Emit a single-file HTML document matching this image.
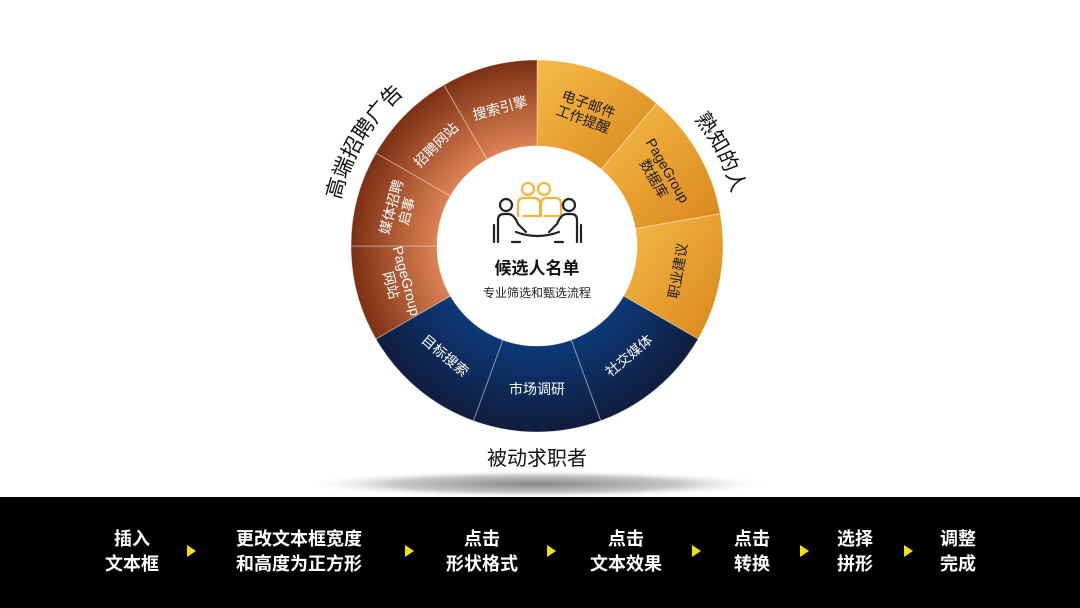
<!DOCTYPE html>
<html><head><meta charset="utf-8"><style>
html,body{margin:0;padding:0;background:#fff}
body{width:1080px;height:608px;overflow:hidden;position:relative;font-family:"Liberation Sans","Noto Sans CJK SC",sans-serif}
svg{position:absolute;left:0;top:0}
</style></head><body>
<svg id="s" width="1080" height="608" viewBox="0 0 1080 608" xmlns="http://www.w3.org/2000/svg" font-family="Liberation Sans, Noto Sans CJK SC, sans-serif">
<defs>
<radialGradient id="sh" cx="50%" cy="50%" r="50%"><stop offset="0" stop-color="#888"/><stop offset="0.6" stop-color="#c8c8c8"/><stop offset="1" stop-color="#fff" stop-opacity="0"/></radialGradient>
<linearGradient id="gO" x1="0" y1="0" x2="1" y2="1"><stop offset="0" stop-color="#f6bb48"/><stop offset="1" stop-color="#d8861a"/></linearGradient>
<radialGradient id="gB" gradientUnits="userSpaceOnUse" cx="537" cy="246" r="186"><stop offset="0.5" stop-color="#e48a5a"/><stop offset="1" stop-color="#7c2f13"/></radialGradient>
<radialGradient id="gN" gradientUnits="userSpaceOnUse" cx="537" cy="246" r="186"><stop offset="0.5" stop-color="#0c3b7c"/><stop offset="1" stop-color="#101d3d"/></radialGradient>
<path id="pL" d=""/><path id="pR" d=""/>
</defs>
<ellipse cx="537" cy="484" rx="240" ry="14" fill="url(#sh)"/>
<g id="ring"></g>
<circle cx="537" cy="246" r="100" fill="#fff"/>
<g id="labels" fill="#fff" font-size="14" text-anchor="middle"></g>
<text font-size="21" fill="#111"><textPath href="#pL" startOffset="50%" text-anchor="middle">高端招聘广告</textPath></text>
<text font-size="21" fill="#111"><textPath href="#pR" startOffset="50%" text-anchor="middle">熟知的人</textPath></text>
<text x="537" y="465" font-size="20" fill="#111" text-anchor="middle">被动求职者</text>
<g fill="none" stroke-width="2.2" stroke-linecap="round" stroke-linejoin="round">
<g stroke="#f3b33d">
<circle cx="528" cy="189" r="6"/><circle cx="544" cy="189" r="6"/>
<path d="M518 216 v-12 q0-6 6-6 h10 q6 0 6 6 v12 h-16"/>
<path d="M541 216 v-12 q0-6 6-6 h8 q6 0 6 6 v12 h-16"/>
</g>
<g stroke="#222">
<circle cx="506" cy="205" r="6"/><circle cx="569" cy="205" r="6"/>
<path d="M498 242 v-22 q0-6 6-6 h4 q6 0 10 10 l8 8"/>
<path d="M494 225 v17"/>
<path d="M577 242 v-22 q0-6-6-6 h-4 q-6 0-10 10 l-8 8"/>
<path d="M581 225 v17"/>
<path d="M516 232 q21 8 43 0"/>
<path d="M520 242 h-8 M555 242 h8"/>
</g>
</g>
<text x="537" y="274" font-size="17" font-weight="bold" fill="#111" text-anchor="middle">候选人名单</text>
<text x="537" y="297" font-size="12" fill="#222" text-anchor="middle">专业筛选和甄选流程</text>
<rect x="0" y="497" width="1080" height="111" fill="#000"/>
<g fill="#fff" font-size="18" font-weight="bold" text-anchor="middle">
<text x="132" y="545">插入</text><text x="132" y="570">文本框</text>
<text x="299" y="545">更改文本框宽度</text><text x="299" y="570">和高度为正方形</text>
<text x="482" y="545">点击</text><text x="482" y="570">形状格式</text>
<text x="626" y="545">点击</text><text x="626" y="570">文本效果</text>
<text x="752" y="545">点击</text><text x="752" y="570">转换</text>
<text x="855" y="545">选择</text><text x="855" y="570">拼形</text>
<text x="958" y="545">调整</text><text x="958" y="570">完成</text>
</g>
<g fill="#f5e200">
<path d="M187 545 l9 6 l-9 6z"/><path d="M405 545 l9 6 l-9 6z"/><path d="M547 545 l9 6 l-9 6z"/>
<path d="M692 545 l9 6 l-9 6z"/><path d="M800 545 l9 6 l-9 6z"/><path d="M904 545 l9 6 l-9 6z"/>
</g>
</svg>
<script>
var cx=537,cy=246,R=186,r=100,NS="http://www.w3.org/2000/svg";
function P(a,rad){a=a*Math.PI/180;return [cx+rad*Math.cos(a),cy+rad*Math.sin(a)];}
function seg(a0,a1,fill){var p0=P(a0,R),p1=P(a1,R),q1=P(a1,r),q0=P(a0,r);
var d="M"+p0+" A"+R+" "+R+" 0 0 1 "+p1+" L"+q1+" A"+r+" "+r+" 0 0 0 "+q0+"Z";
var e=document.createElementNS(NS,"path");e.setAttribute("d",d);e.setAttribute("fill",fill);
e.setAttribute("stroke","rgba(255,255,255,0.35)");e.setAttribute("stroke-width","1");
document.getElementById("ring").appendChild(e);}
var segs=[[-90,-50,"url(#gO)",["电子邮件","工作提醒"]],[-50,-10,"url(#gO)",["PageGroup","数据库"]],[-10,30,"url(#gO)",["职业建议"]],
[30,70,"url(#gN)",["社交媒体"]],[70,110,"url(#gN)",["市场调研"]],[110,150,"url(#gN)",["目标搜索"]],
[150,180,"url(#gB)",["PageGroup","网站"]],[180,210,"url(#gB)",["媒体招聘","启事"]],[210,240,"url(#gB)",["招聘网站"]],[240,270,"url(#gB)",["搜索引擎"]]];
var L=document.getElementById("labels");
segs.forEach(function(s){seg(s[0],s[1],s[2]);var m=(s[0]+s[1])/2,p=P(m,143);
var rot=(m>0&&m<180)?m-90:m+90;
var g=document.createElementNS(NS,"g");g.setAttribute("transform","translate("+p+") rotate("+rot+")");
var n=s[3].length;s[3].forEach(function(t,i){var tx=document.createElementNS(NS,"text");
tx.setAttribute("y",(i-(n-1)/2)*16+5);tx.setAttribute("fill",s[2]=="url(#gO)"?"#1a1a1a":"#fff");tx.textContent=t;g.appendChild(tx);});
L.appendChild(g);});
function arc(id,a0,a1,rad){var p0=P(a0,rad),p1=P(a1,rad);document.getElementById(id).setAttribute("d","M"+p0+" A"+rad+" "+rad+" 0 0 1 "+p1);}
arc("pL",180,242,202);arc("pR",-58,4,202);
</script>
</body></html>
